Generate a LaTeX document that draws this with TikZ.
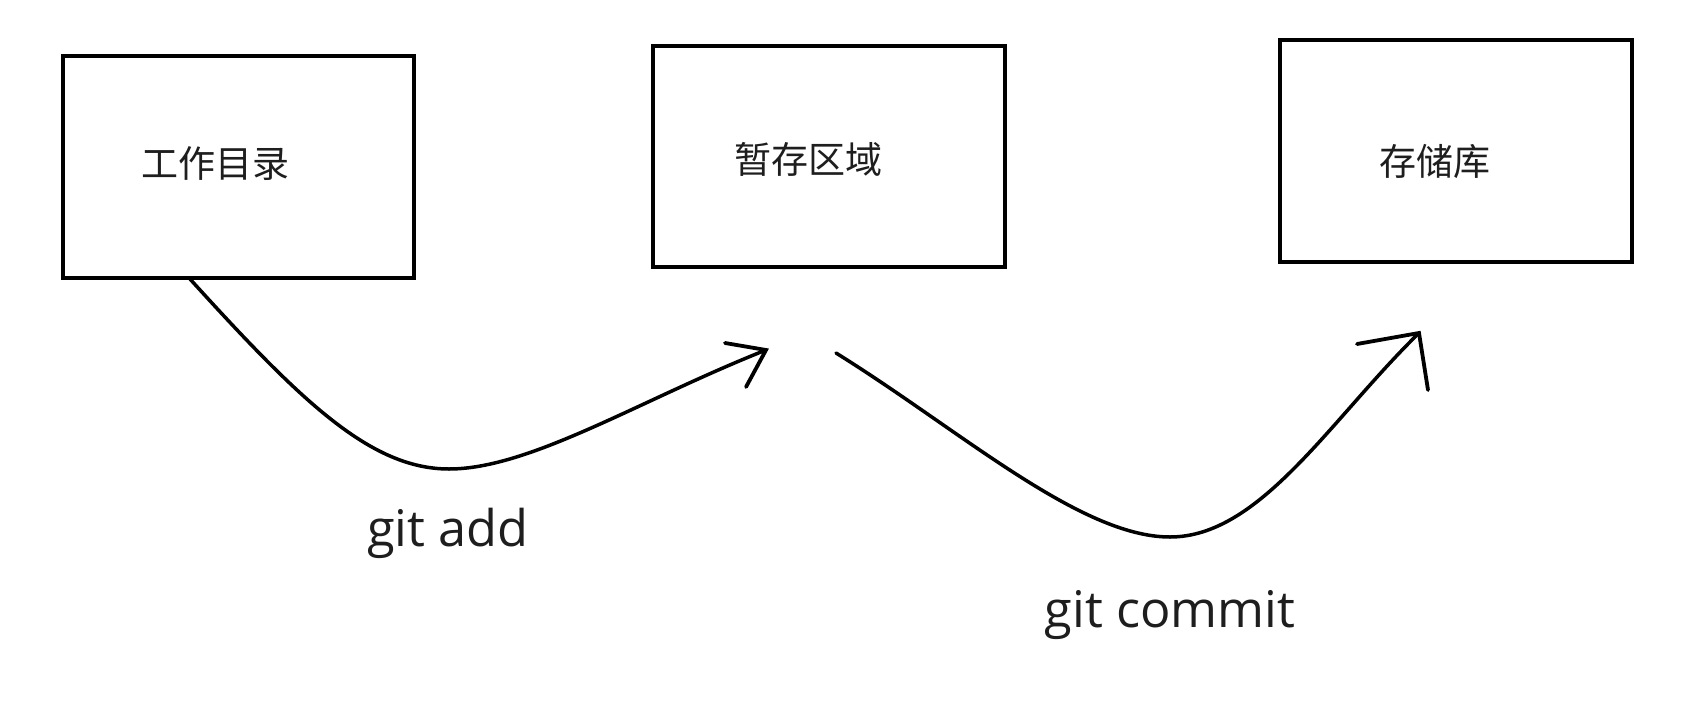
\documentclass[tikz,border=0pt]{standalone}
\usepackage{fontspec}
\setmainfont{Open Sans}
\newfontfamily\cjk{Noto Sans CJK SC}
\definecolor{ink}{HTML}{1E1E1E}
\begin{document}
\begin{tikzpicture}[x=1pt,y=-1pt,
  box/.style={draw=black,line width=3.6pt,rectangle,inner sep=0pt},
  cjklabel/.style={font=\cjk\fontsize{37}{40}\selectfont,text=ink,inner sep=0pt},
  cmdlabel/.style={font=\fontsize{50.5}{54}\selectfont,text=ink,inner sep=0pt,anchor=base},
  curve/.style={line width=3.5pt,line cap=round,line join=round},
  barb/.style={line width=3.8pt,line cap=round}]
\useasboundingbox (0,0) rectangle (1682,712);
\fill[white] (0,0) rectangle (1682,712);
% boxes
\node[box,minimum width=351pt,minimum height=222pt] (wd) at (238.5,167) {};
\node[box,minimum width=352pt,minimum height=221pt] (st) at (829,156.5) {};
\node[box,minimum width=352pt,minimum height=222pt] (rp) at (1456,151) {};
% labels
\node[cjklabel] (wdt) at (215,164) {工作目录};
\node[cjklabel] (stt) at (808,159) {暂存区域};
\node[cjklabel] (rpt) at (1435,161) {存储库};
\node[cmdlabel] (add) at (448,546) {git add};
\node[cmdlabel] (commit) at (1170,627) {git commit};
% curve 1
\coordinate (s1) at (190,279);
\coordinate (m1) at (449,469);
\coordinate (t1) at (766,350);
\coordinate (a1) at (725,343);
\coordinate (b1) at (746,387);
\draw[curve] (s1) .. controls (300,400) and (370,469) .. (m1)
  .. controls (530,469) and (640,400) .. (t1);
\draw[barb] (a1) -- (t1) -- (b1);
% curve 2
\coordinate (s2) at (836,353);
\coordinate (m2) at (1170,537);
\coordinate (t2) at (1419,333);
\coordinate (a2) at (1357,344);
\coordinate (b2) at (1428,390);
\draw[curve] (s2) .. controls (960,430) and (1080,537) .. (m2)
  .. controls (1260,537) and (1330,420) .. (t2);
\draw[barb] (a2) -- (t2) -- (b2);
\end{tikzpicture}
\end{document}
